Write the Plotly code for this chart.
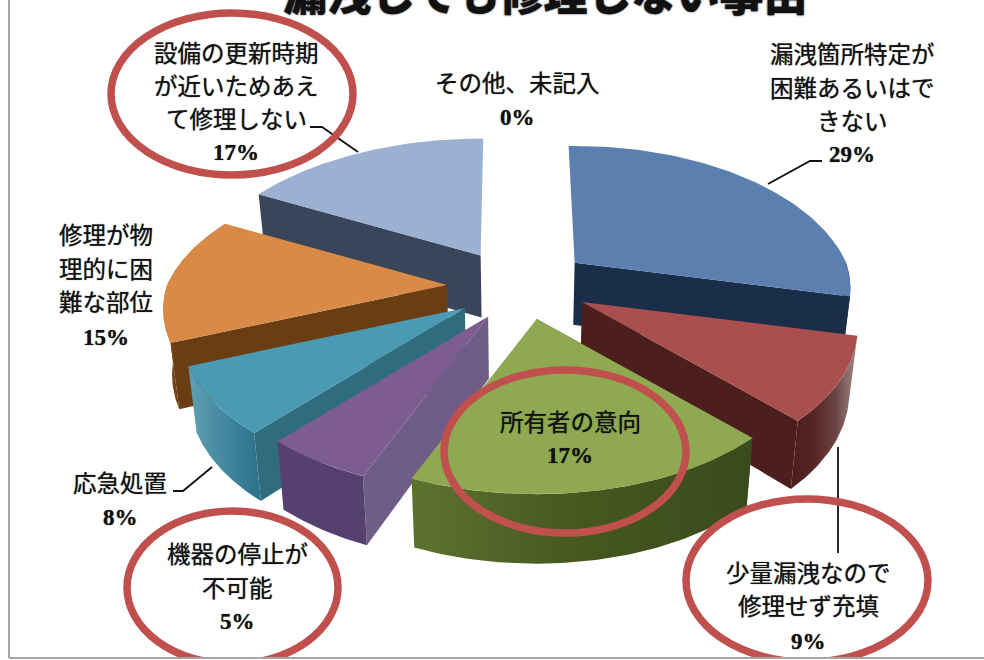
import numpy as np
import plotly.graph_objects as go

# Shares of each reason, clockwise from twelve o'clock
categories = ["漏洩箇所特定が困難あるいはできない", "少量漏洩なので修理せず充填", "所有者の意向",
              "機器の停止が不可能", "応急処置", "修理が物理的に困難な部位",
              "設備の更新時期が近いためあえて修理しない", "その他、未記入"]
shares = [29, 9, 17, 5, 8, 15, 17, 0]
label_lines = [
    ["漏洩箇所特定が", "困難あるいはで", "きない"],
    ["少量漏洩なので", "修理せず充填"],
    ["所有者の意向"],
    ["機器の停止が", "不可能"],
    ["応急処置"],
    ["修理が物", "理的に困", "難な部位"],
    ["設備の更新時期", "が近いためあえ", "て修理しない"],
    ["その他、未記入"],
]
title_text = "漏洩しても修理しない事由"

# Label placement: centre x and row positions for each category
label_x = [852, 808, 570, 237, 120, 106, 236, 517]
label_y = [[55, 89, 122, 154], [574, 607, 641], [423, 455], [555, 589, 621],
           [484, 517], [236, 270, 303, 337], [54, 87, 120, 152], [84, 117]]

# Colours: top face, radial wall, outer wall gradient (left to right)
top_colors = ["#5b80b0", "#a94f4d", "#8fa952", "#7c5c92", "#4a9ab3", "#da8a47", "#9cb0d1", "#9cb0d1"]
wall_colors = ["#1a2e4a", "#4d1e1e", "#3b4a1e", "#6f5c87", "#2f6d7e", "#6a3d13", "#3a455a", "#3a455a"]
rim_colors = [
    ["#1a2e4a", "#1a2e4a"],
    ["#4d1e1e", "#552424", "#6b4444", "#a08c8c"],
    ["#5e7230", "#46571f", "#3b4a1e"],
    ["#56406f", "#56406f"],
    ["#5fa0b5", "#2a7088"],
    ["#de9a60", "#7a4515", "#6a3d13"],
    ["#3a455a", "#3a455a"],
    ["#3a455a", "#3a455a"],
]
draw_order = [6, 0, 5, 4, 3, 1, 2]

# Projection of the exploded, tilted disc
CX, CY = 519, 285
EXPLODE_X, EXPLODE_Y = 72, 35
RX, RY = 280, 146
START_ANGLE = -1.6
BOTTOM_SHRINK = 0.975


def skew(theta):
    return (theta + 7.5 * np.exp(-((theta - 215) / 45) ** 2)
            + 2.3 * np.exp(-((theta - 360) / 30) ** 2))


def rim_point(theta):
    t = np.radians(theta)
    s, c = np.sin(t), np.cos(t)
    rx = RX * (1 - 0.17 * c - 0.03 * np.maximum(s, 0) - 0.06 * np.maximum(c, 0))
    ry = RY * (1 - 0.20 * c)
    return rx * s, -ry * c


def depth(theta):
    return 64.5 - 5 * np.cos(np.radians(theta))


def lower(x, y, d):
    return CX + (np.asarray(x) - CX) * BOTTOM_SHRINK, np.asarray(y) + d


fig = go.Figure()


def polygon(x, y, color=None, gradient=None):
    kw = dict(fillgradient=dict(type="horizontal", colorscale=gradient)) if gradient else dict(fillcolor=color)
    fig.add_trace(go.Scatter(x=list(x), y=list(y), mode="lines", fill="toself",
                             line=dict(width=0), hoverinfo="skip", showlegend=False, **kw))


edges = START_ANGLE + np.concatenate([[0], np.cumsum(shares)]) * 3.6

for i in draw_order:
    a0, a1 = edges[i], edges[i + 1]
    mid = np.radians((a0 + a1) / 2)
    ax = CX + EXPLODE_X * np.sin(mid)
    ay = CY - EXPLODE_Y * np.cos(mid)
    s0, s1 = skew(a0), skew(a1)

    # Radial wall facing the viewer
    wall = a1 if np.sin(np.radians(a1)) > 0 else a0
    wx, wy = rim_point(skew(wall))
    px, py = np.array([ax, ax + wx]), np.array([ay, ay + wy])
    bx, by = lower(px, py, np.array([62, depth(skew(wall))]))
    polygon(np.r_[px, bx[::-1], px[0]], np.r_[py, by[::-1], py[0]], color=wall_colors[i])

    # Outer wall on the near half of the disc
    lo, hi = max(s0, 90), min(s1, 270)
    if hi > lo:
        th = np.linspace(lo, hi, 60)
        rx_, ry_ = rim_point(th)
        tx, ty = ax + rx_, ay + ry_
        bx, by = lower(tx, ty, depth(th))
        n = len(rim_colors[i]) - 1
        scale = [[k / n, c] for k, c in enumerate(rim_colors[i])]
        polygon(np.r_[tx, bx[::-1], tx[0]], np.r_[ty, by[::-1], ty[0]], gradient=scale)

    # Top face
    th = np.linspace(s0, s1, 80)
    rx_, ry_ = rim_point(th)
    polygon(np.r_[ax, ax + rx_, ax], np.r_[ay, ay + ry_, ay], color=top_colors[i])

# Leader lines from labels to their slices
leaders = [
    ([310, 322, 358], [127, 127, 152]),
    ([768, 810, 822], [184, 161, 161]),
    ([212, 183, 173], [467, 491, 491]),
    ([838, 838], [447, 553]),
]
for lx, ly in leaders:
    fig.add_trace(go.Scatter(x=lx, y=ly, mode="lines", line=dict(color="#111111", width=1.8),
                             hoverinfo="skip", showlegend=False))

# Highlight rings round the key reasons
rings = [(111, 13, 353, 175), (444, 370, 686, 533), (127, 511, 338, 664), (686, 499, 928, 662)]
shapes = [dict(type="circle", xref="x", yref="y", x0=a, y0=b, x1=c, y1=d, layer="above",
               line=dict(color="#c0504d", width=7.5)) for a, b, c, d in rings]
# Chart frame
shapes.append(dict(type="line", xref="x", yref="y", x0=9, x1=9, y0=0, y1=658, layer="above",
                   line=dict(color="#a6a6a6", width=2)))
shapes.append(dict(type="rect", xref="x", yref="y", x0=0, x1=984, y0=659, y1=668, layer="above",
                   fillcolor="white", line=dict(width=0)))
shapes.append(dict(type="line", xref="x", yref="y", x0=9, x1=984, y0=658, y1=658, layer="above",
                   line=dict(color="#a6a6a6", width=2)))

FONT = "Liberation Serif, Noto Sans CJK JP"
SOFT_BOLD = "0 0 1px rgba(0,0,0,0.7)"
annotations = [dict(x=545, xref="x", y=1, yref="paper", yshift=8, text=title_text, showarrow=False,
                    yanchor="middle", xanchor="center",
                    font=dict(family="Noto Sans CJK JP", size=44, color="#111111", weight=900,
                              shadow="0 0 2px rgba(0,0,0,0.8)"))]
for i, lines in enumerate(label_lines):
    rows = lines + [f"{shares[i]}%"]
    for text, y in zip(rows, label_y[i]):
        is_value = text.endswith("%")
        annotations.append(dict(x=label_x[i], y=y, xref="x", yref="y", text=text, showarrow=False,
                                yanchor="middle", xanchor="center",
                                font=dict(family=FONT, size=23 if is_value else 23.5, color="#111111",
                                          weight=700 if is_value else 400, shadow=SOFT_BOLD)))

fig.update_layout(
    width=984, height=660, autosize=False,
    margin=dict(l=0, r=0, t=0, b=0),
    paper_bgcolor="white", plot_bgcolor="white",
    xaxis=dict(range=[0, 984], visible=False, fixedrange=True),
    yaxis=dict(range=[660, 0], visible=False, fixedrange=True),
    shapes=shapes, annotations=annotations, showlegend=False,
)
fig.write_html("out.html", config=dict(displayModeBar=False))
